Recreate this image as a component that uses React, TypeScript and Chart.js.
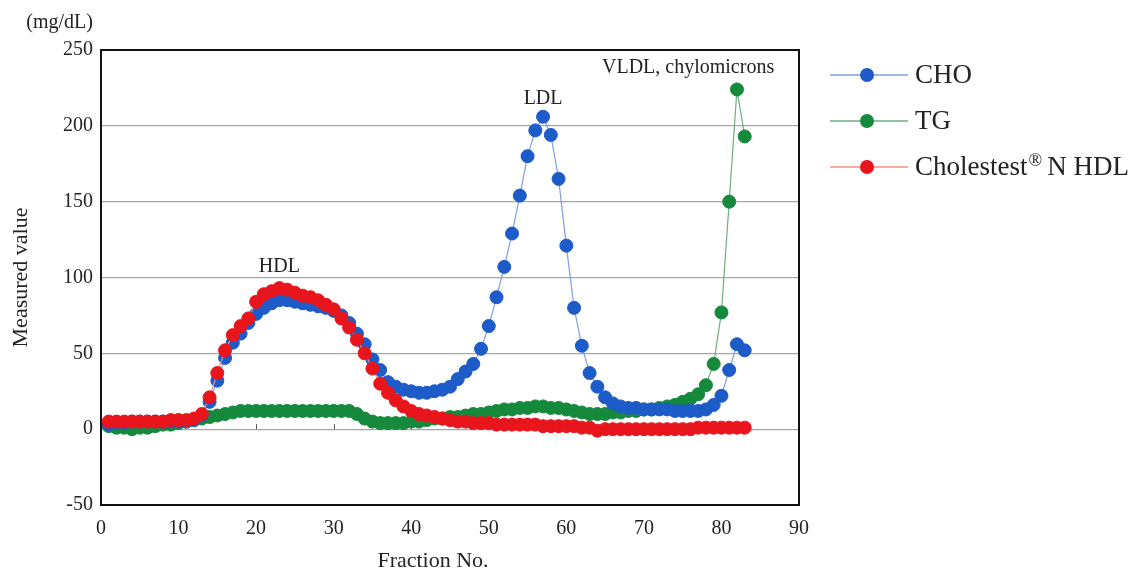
import React, { useEffect, useRef } from "react";
import { Chart, registerables } from "chart.js";

Chart.register(...registerables);

// ---------- data ----------
const fractions = [
  1, 2, 3, 4, 5, 6, 7, 8, 9, 10,
  11, 12, 13, 14, 15, 16, 17, 18, 19, 20,
  21, 22, 23, 24, 25, 26, 27, 28, 29, 30,
  31, 32, 33, 34, 35, 36, 37, 38, 39, 40,
  41, 42, 43, 44, 45, 46, 47, 48, 49, 50,
  51, 52, 53, 54, 55, 56, 57, 58, 59, 60,
  61, 62, 63, 64, 65, 66, 67, 68, 69, 70,
  71, 72, 73, 74, 75, 76, 77, 78, 79, 80,
  81, 82, 83,
];

const choValues = [
  3, 4, 4, 5, 5, 5, 5, 5, 5, 5,
  5, 6, 9, 18, 32, 47, 57, 63, 70, 76,
  80, 83, 85, 85, 84, 83, 82, 81, 80, 78,
  75, 70, 63, 56, 46, 39, 31, 28, 26, 25,
  24, 24, 25, 26, 28, 33, 38, 43, 53, 68,
  87, 107, 129, 154, 180, 197, 206, 194, 165, 121,
  80, 55, 37, 28, 21, 17, 15, 14, 14, 13,
  13, 13, 13, 12, 12, 12, 12, 13, 16, 22,
  39, 56, 52,
];

const tgValues = [
  2, 1, 1, 0, 1, 1, 2, 3, 3, 4,
  5, 6, 7, 8, 9, 10, 11, 12, 12, 12,
  12, 12, 12, 12, 12, 12, 12, 12, 12, 12,
  12, 12, 10, 7, 5, 4, 4, 4, 4, 5,
  5, 6, 7, 7, 8, 8, 9, 10, 10, 11,
  12, 13, 13, 14, 14, 15, 15, 14, 14, 13,
  12, 11, 10, 10, 10, 11, 11, 12, 12, 13,
  13, 14, 15, 16, 18, 20, 23, 29, 43, 77,
  150, 224, 193,
];

const hdlValues = [
  5, 5, 5, 5, 5, 5, 5, 5, 6, 6,
  6, 7, 10, 21, 37, 52, 62, 68, 73, 84,
  89, 91, 93, 92, 90, 88, 87, 85, 82, 79,
  73, 67, 59, 50, 40, 30, 24, 19, 15, 12,
  10, 9, 8, 7, 6, 5, 5, 4, 4, 4,
  3, 3, 3, 3, 3, 3, 2, 2, 2, 2,
  2, 1, 1, -1, 0, 0, 0, 0, 0, 0,
  0, 0, 0, 0, 0, 0, 1, 1, 1, 1,
  1, 1, 1,
];

const xTickValues = [0, 10, 20, 30, 40, 50, 60, 70, 80, 90];
const yTickValues = [-50, 0, 50, 100, 150, 200, 250];
const seriesNames = ["CHO", "TG", "Cholestest® N HDL"];
const regionNames = ["HDL", "LDL", "VLDL, chylomicrons"];

const SERIF = '"Liberation Serif", "DejaVu Serif", "Times New Roman", serif';
const TEXT = "#232323";

const seriesStyle = [
  { point: "#1d5bc8", line: "#7e9ee0", order: 2 },
  { point: "#168a3c", line: "#6fae80", order: 3 },
  { point: "#e8151c", line: "#f2907f", order: 1 },
];

const toPoints = (vals: number[]) => fractions.map((f, i) => ({ x: f, y: vals[i] }));

const decorPlugin = {
  id: "decor",
  beforeDraw(chart: any) {
    const { ctx, width, height } = chart;
    ctx.save();
    ctx.fillStyle = "#ffffff";
    ctx.fillRect(0, 0, width, height);
    ctx.restore();
  },
  beforeDatasetsDraw(chart: any) {
    const { ctx, chartArea, scales } = chart;
    const y0 = scales.y.getPixelForValue(0);
    ctx.save();
    ctx.strokeStyle = "#555";
    ctx.lineWidth = 1;
    xTickValues.forEach((v) => {
      const px = Math.round(scales.x.getPixelForValue(v)) + 0.5;
      if (px <= chartArea.left + 2 || px >= chartArea.right - 2) return;
      ctx.beginPath();
      ctx.moveTo(px, y0);
      ctx.lineTo(px, y0 - 5);
      ctx.stroke();
    });
    ctx.restore();
  },
  afterDraw(chart: any) {
    const { ctx, chartArea, scales } = chart;
    ctx.save();
    // frame
    ctx.strokeStyle = "#111";
    ctx.lineWidth = 2;
    ctx.strokeRect(chartArea.left, chartArea.top, chartArea.right - chartArea.left, chartArea.bottom - chartArea.top);

    ctx.fillStyle = TEXT;
    // unit
    ctx.font = `20px ${SERIF}`;
    ctx.textAlign = "right";
    ctx.textBaseline = "middle";
    ctx.fillText("(mg/dL)", 93, 23);

    // x title
    ctx.font = `22px ${SERIF}`;
    ctx.textAlign = "center";
    ctx.fillText("Fraction No.", 433, 561);

    // region annotations
    const anchors = [
      { x: 23, y: 107 },
      { x: 57, y: 218 },
      { x: 75.7, y: 238 },
    ];
    ctx.font = `20px ${SERIF}`;
    regionNames.forEach((name, i) => {
      const px = scales.x.getPixelForValue(anchors[i].x);
      const py = scales.y.getPixelForValue(anchors[i].y);
      ctx.fillText(name, px, py);
    });

    // legend
    seriesNames.forEach((name, i) => {
      const ly = 75 + i * 46;
      ctx.strokeStyle = seriesStyle[i].line;
      ctx.lineWidth = 1.5;
      ctx.beginPath();
      ctx.moveTo(830, ly);
      ctx.lineTo(908, ly);
      ctx.stroke();
      ctx.fillStyle = seriesStyle[i].point;
      ctx.beginPath();
      ctx.arc(867, ly, 7, 0, Math.PI * 2);
      ctx.fill();

      ctx.fillStyle = TEXT;
      ctx.textAlign = "left";
      ctx.textBaseline = "middle";
      if (name.includes("®")) {
        const [a, b] = name.split("®");
        ctx.font = `27px ${SERIF}`;
        ctx.fillText(a, 915, ly + 1);
        const wa = ctx.measureText(a).width;
        ctx.font = `18px ${SERIF}`;
        ctx.fillText("®", 915 + wa + 1, ly - 6);
        const wr = ctx.measureText("®").width;
        ctx.font = `27px ${SERIF}`;
        ctx.fillText(b.trim(), 915 + wa + wr + 6, ly + 1);
      } else {
        ctx.font = `27px ${SERIF}`;
        ctx.fillText(name, 915, ly + 1);
      }
    });
    ctx.restore();
  },
};

export default function App() {
  const canvasRef = useRef<HTMLCanvasElement | null>(null);

  useEffect(() => {
    document.body.style.margin = "0";
    const canvas = canvasRef.current;
    if (!canvas) return;
    const valueSets = [choValues, tgValues, hdlValues];
    const chart = new Chart(canvas, {
      type: "line",
      data: {
        datasets: valueSets.map((vals, i) => ({
          label: seriesNames[i],
          data: toPoints(vals),
          borderColor: seriesStyle[i].line,
          backgroundColor: seriesStyle[i].point,
          pointBackgroundColor: seriesStyle[i].point,
          pointBorderColor: seriesStyle[i].point,
          pointBorderWidth: 1,
          pointRadius: 6.5,
          borderWidth: 1.2,
          tension: 0,
          fill: false,
          order: seriesStyle[i].order,
        })),
      },
      options: {
        responsive: false,
        animation: false,
        devicePixelRatio: 1,
        layout: { padding: { top: 50, right: 336, left: 0, bottom: 0 } },
        plugins: {
          legend: { display: false },
          tooltip: { enabled: false },
        },
        scales: {
          x: {
            type: "linear",
            min: 0,
            max: 90,
            afterBuildTicks: (scale: any) => {
              scale.ticks = xTickValues.map((v) => ({ value: v }));
            },
            afterFit: (scale: any) => {
              scale.height = 69;
            },
            grid: { display: false, drawTicks: false },
            border: { display: false },
            ticks: {
              padding: 12,
              color: TEXT,
              font: { family: SERIF, size: 20 },
              maxRotation: 0,
              autoSkip: false,
            },
          },
          y: {
            type: "linear",
            min: -50,
            max: 250,
            afterBuildTicks: (scale: any) => {
              scale.ticks = yTickValues.map((v) => ({ value: v }));
            },
            afterFit: (scale: any) => {
              scale.width = 101;
            },
            grid: { color: "#a6a6a6", lineWidth: 1.2, drawTicks: false },
            border: { display: false },
            ticks: {
              padding: 8,
              color: TEXT,
              font: { family: SERIF, size: 20 },
              autoSkip: false,
            },
            title: {
              display: true,
              text: "Measured value",
              color: TEXT,
              font: { family: SERIF, size: 22 },
              padding: { top: 8, bottom: 0 },
            },
          },
        },
      },
      plugins: [decorPlugin],
    } as any);
    return () => chart.destroy();
  }, []);

  return (
    <div style={{ position: "absolute", left: 0, top: 0, width: 1135, height: 574 }}>
      <canvas ref={canvasRef} width={1135} height={574} style={{ display: "block" }} />
    </div>
  );
}
